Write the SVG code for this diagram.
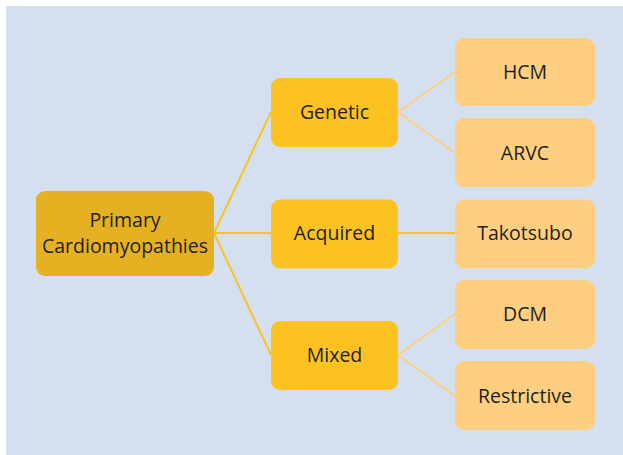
<svg xmlns="http://www.w3.org/2000/svg" width="623" height="455" viewBox="0 0 623 455">
<style>
text{font-family:"Open Sans","Noto Sans","Liberation Sans",sans-serif;font-size:19.5px;fill:#231f20;text-anchor:middle;dominant-baseline:central}
.root{fill:#e6b023}
.mid{fill:#fcc222}
.leaf{fill:#fecf80}
.l1{stroke:#fcc222;stroke-width:2;fill:none}
.l2{stroke:#fecf80;stroke-width:2;fill:none}
</style>
<rect x="6" y="6" width="617" height="449" fill="#d4dff0"/>
<g id="connectors">
<path class="l1" d="M214 233 L271 112 M214 233 L271 233 M214 233 L271 355"/>
<path class="l2" d="M398 112 L455 72 M398 112 L455 153 M398 355 L455 314 M398 355 L455 396"/>
<path class="l1" d="M398 233 L455 233"/>
</g>
<g id="primary"><rect class="root" x="36" y="191" width="178" height="85" rx="9"/><text x="125" y="219">Primary</text><text x="125" y="245.5">Cardiomyopathies</text></g>
<g id="genetic"><rect class="mid" x="271" y="78" width="127" height="69" rx="9"/><text x="334.5" y="111">Genetic</text></g>
<g id="acquired"><rect class="mid" x="271" y="199.5" width="127" height="69" rx="9"/><text x="334.5" y="232">Acquired</text></g>
<g id="mixed"><rect class="mid" x="271" y="321" width="127" height="69" rx="9"/><text x="334.5" y="354">Mixed</text></g>
<g id="hcm"><rect class="leaf" x="455" y="38" width="140" height="68" rx="9"/><text x="525" y="71">HCM</text></g>
<g id="arvc"><rect class="leaf" x="455" y="118" width="140" height="69" rx="9"/><text x="525" y="152">ARVC</text></g>
<g id="takotsubo"><rect class="leaf" x="455" y="199.5" width="140" height="69" rx="9"/><text x="525" y="232">Takotsubo</text></g>
<g id="dcm"><rect class="leaf" x="455" y="280" width="140" height="69" rx="9"/><text x="525" y="313">DCM</text></g>
<g id="restrictive"><rect class="leaf" x="455" y="361" width="140" height="69" rx="9"/><text x="525" y="395">Restrictive</text></g>
</svg>
